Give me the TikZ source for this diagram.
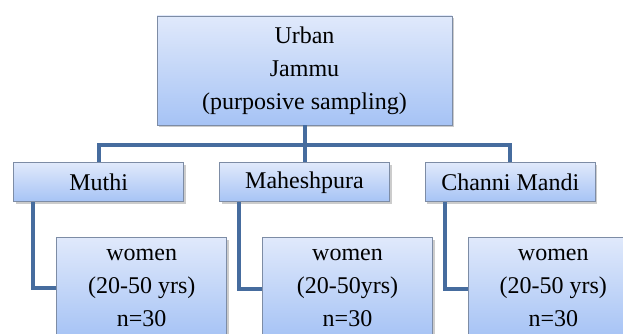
\documentclass[tikz,border=0pt]{standalone}
\usepackage{fontspec}
\setmainfont{Liberation Serif}
\usepackage{xcolor}
\usetikzlibrary{positioning,shadows}

\definecolor{boxtop}{RGB}{224,233,251}
\definecolor{boxbot}{RGB}{166,195,245}
\definecolor{boxline}{RGB}{125,140,165}
\definecolor{linkblue}{RGB}{70,108,158}

\begin{document}
\begin{tikzpicture}[
  x=1pt, y=1pt,
  node distance=37pt and 35pt,
  box/.style={draw=boxline, line width=0.8pt, top color=boxtop, bottom color=boxbot,
    align=center, font=\fontsize{24}{33}\selectfont, inner sep=0pt,
    drop shadow={shadow xshift=2pt, shadow yshift=-2pt, fill=black!40}},
  headbox/.style={box, minimum width=295pt, minimum height=109pt},
  sitebox/.style={box, minimum width=170pt, minimum height=39pt},
  groupbox/.style={box, minimum width=170pt, minimum height=100pt},
  link/.style={draw=linkblue, line width=4pt},
]
\useasboundingbox (0,0) rectangle (623,-334);
\clip (0,0) rectangle (623,-334);
\node[headbox] (urban) at (304.5,-70.5) {Urban\\ Jammu\\ (purposive sampling)};
\node[sitebox, below=of urban] (mahesh) {Maheshpura};
\node[sitebox, left=of mahesh] (muthi) {Muthi};
\node[sitebox, right=of mahesh] (channi) {Channi Mandi};
\node[groupbox, below right=35pt and 43pt of muthi.south west] (womenA) {women\\ (20-50 yrs)\\ n=30};
\node[groupbox, below right=35pt and 43pt of mahesh.south west] (womenB) {women\\ (20-50yrs)\\ n=30};
\node[groupbox, below right=35pt and 43pt of channi.south west] (womenC) {women\\ (20-50 yrs)\\ n=30};
\draw[link] (urban.south) -- (mahesh.north);
\draw[link] (urban.south) -- ++(0,-20) -| (muthi.north);
\draw[link] (urban.south) -- ++(0,-20) -| (channi.north);
\draw[link] ([xshift=20pt]muthi.south west) |- ([yshift=-51pt]womenA.north west);
\draw[link] ([xshift=20pt]mahesh.south west) |- ([yshift=-52pt]womenB.north west);
\draw[link] ([xshift=20pt]channi.south west) |- ([yshift=-52pt]womenC.north west);
\end{tikzpicture}
\end{document}
